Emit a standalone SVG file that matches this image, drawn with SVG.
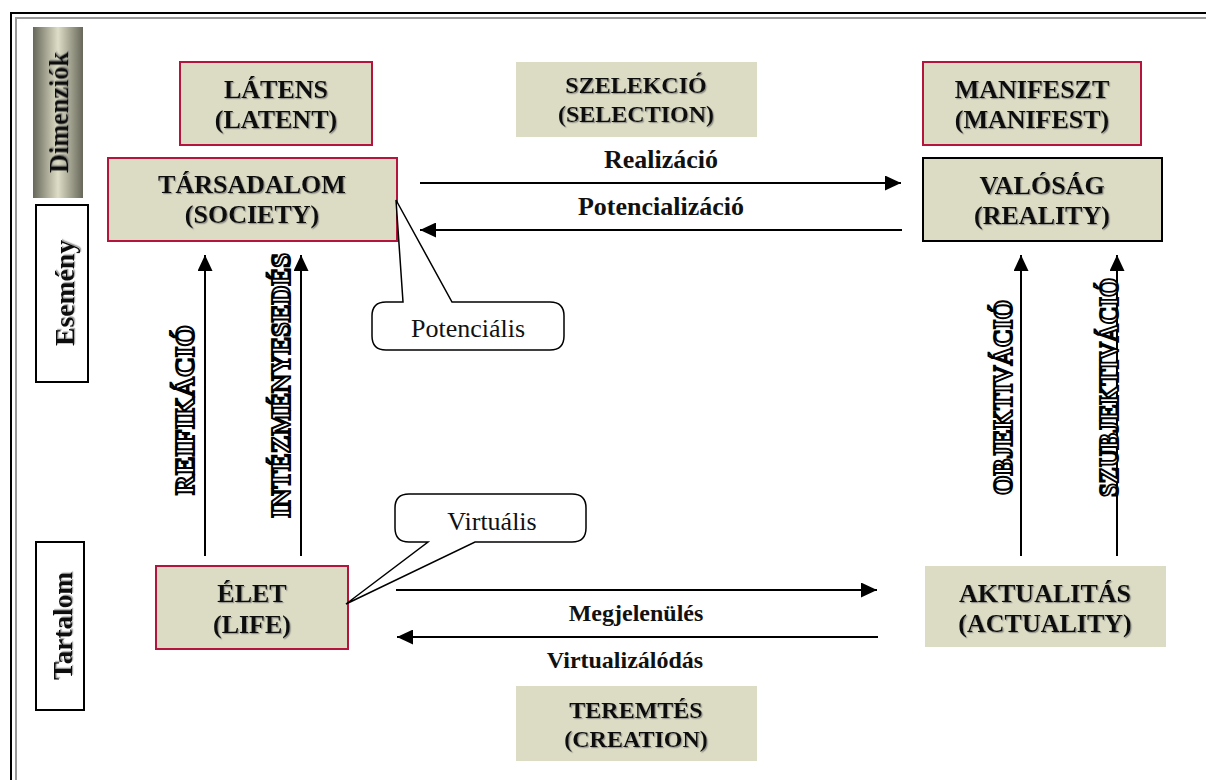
<svg xmlns="http://www.w3.org/2000/svg" width="1206" height="780" viewBox="0 0 1206 780">
<defs>
<linearGradient id="dimGrad" x1="0" y1="0" x2="1" y2="0">
<stop offset="0" stop-color="#67675a"/>
<stop offset="0.5" stop-color="#deddc6"/>
<stop offset="1" stop-color="#67675a"/>
</linearGradient>
<filter id="sh" x="-5%" y="-20%" width="110%" height="140%">
<feDropShadow dx="1.2" dy="1.2" stdDeviation="0.6" flood-color="#777" flood-opacity="0.7"/>
</filter>
<marker id="ah" markerUnits="userSpaceOnUse" markerWidth="16" markerHeight="15" refX="16" refY="7.5" orient="auto">
<path d="M0,0 L16,7.5 L0,15 Z" fill="#000"/>
</marker>
</defs>
<style>
.box{fill:#dcdbc3}
.red{stroke:#b5153d;stroke-width:2}
.blk{stroke:#000;stroke-width:2}
.t{font-family:"Liberation Serif","Times New Roman",serif;font-weight:bold;fill:#111;text-anchor:middle}
.lab{font-size:26px}
.sm{font-size:24px}
.side{font-family:"Liberation Serif","Times New Roman",serif;font-weight:bold;font-size:28px;fill:#111;text-anchor:middle}
.out{font-family:"Liberation Serif","Times New Roman",serif;font-weight:bold;font-size:27px;fill:#fff;stroke:#000;stroke-width:2;text-anchor:middle}
.reg{font-family:"Liberation Serif","Times New Roman",serif;font-size:26px;fill:#111;text-anchor:middle}
.ln{stroke:#000;stroke-width:2;fill:none}
.call{fill:#fff;stroke:#000;stroke-width:1.5}
</style>
<rect width="1206" height="780" fill="#fff"/>
<g id="frame" fill="none">
<rect x="11" y="13" width="1220" height="800" stroke="#000" stroke-width="2"/>
<rect x="16" y="18" width="1220" height="800" stroke="#999" stroke-width="2"/>
</g>
<g id="side-dimenziok">
<rect x="33" y="27" width="50" height="171" fill="url(#dimGrad)"/>
<text class="side" filter="url(#sh)" transform="translate(68,112.5) rotate(-90)" textLength="121" lengthAdjust="spacingAndGlyphs">Dimenziók</text>
</g>
<g id="side-esemeny">
<rect x="36" y="205" width="52" height="177" fill="#fff" stroke="#000" stroke-width="2"/>
<text class="side" filter="url(#sh)" transform="translate(74,293) rotate(-90)" textLength="106" lengthAdjust="spacingAndGlyphs">Esemény</text>
</g>
<g id="side-tartalom">
<rect x="36" y="542" width="48" height="168" fill="#fff" stroke="#000" stroke-width="2"/>
<text class="side" filter="url(#sh)" transform="translate(72,626) rotate(-90)" textLength="108" lengthAdjust="spacingAndGlyphs">Tartalom</text>
</g>
<g id="latens">
<rect class="box red" x="180" y="62" width="192" height="83"/>
<text class="t lab" filter="url(#sh)" x="276" y="98">LÁTENS</text>
<text class="t lab" filter="url(#sh)" x="276" y="128">(LATENT)</text>
</g>
<g id="szelekcio">
<rect class="box" x="516" y="62" width="241" height="75"/>
<text class="t sm" filter="url(#sh)" x="636" y="93">SZELEKCIÓ</text>
<text class="t sm" filter="url(#sh)" x="636" y="122">(SELECTION)</text>
</g>
<g id="manifeszt">
<rect class="box red" x="923" y="62" width="218" height="83"/>
<text class="t lab" filter="url(#sh)" x="1032" y="98">MANIFESZT</text>
<text class="t lab" filter="url(#sh)" x="1032" y="128">(MANIFEST)</text>
</g>
<g id="tarsadalom">
<rect class="box red" x="108" y="158" width="289" height="83"/>
<text class="t lab" filter="url(#sh)" x="252" y="193">TÁRSADALOM</text>
<text class="t lab" filter="url(#sh)" x="252" y="223">(SOCIETY)</text>
</g>
<g id="valosag">
<rect class="box blk" x="923" y="158" width="239" height="83"/>
<text class="t lab" filter="url(#sh)" x="1042" y="194">VALÓSÁG</text>
<text class="t lab" filter="url(#sh)" x="1042" y="224">(REALITY)</text>
</g>
<g id="elet">
<rect class="box red" x="156" y="566" width="192" height="83"/>
<text class="t lab" filter="url(#sh)" x="252" y="602">ÉLET</text>
<text class="t lab" filter="url(#sh)" x="252" y="633">(LIFE)</text>
</g>
<g id="aktualitas">
<rect class="box" x="925" y="566" width="241" height="81"/>
<text class="t lab" filter="url(#sh)" x="1045" y="602">AKTUALITÁS</text>
<text class="t lab" filter="url(#sh)" x="1045" y="632">(ACTUALITY)</text>
</g>
<g id="teremtes">
<rect class="box" x="516" y="686" width="241" height="75"/>
<text class="t sm" filter="url(#sh)" x="636" y="718">TEREMTÉS</text>
<text class="t sm" filter="url(#sh)" x="636" y="747">(CREATION)</text>
</g>
<g id="connectors">
<line class="ln" x1="420" y1="183" x2="901" y2="183" marker-end="url(#ah)"/>
<line class="ln" x1="902" y1="230" x2="420" y2="230" marker-end="url(#ah)"/>
<line class="ln" x1="396" y1="590" x2="877" y2="590" marker-end="url(#ah)"/>
<line class="ln" x1="878" y1="637" x2="397" y2="637" marker-end="url(#ah)"/>
<line class="ln" x1="205" y1="556" x2="205" y2="255" marker-end="url(#ah)"/>
<line class="ln" x1="301" y1="556" x2="301" y2="255" marker-end="url(#ah)"/>
<line class="ln" x1="1021" y1="556" x2="1021" y2="255" marker-end="url(#ah)"/>
<line class="ln" x1="1117" y1="556" x2="1117" y2="255" marker-end="url(#ah)"/>
<text class="t lab" x="661" y="168">Realizáció</text>
<text class="t lab" x="661" y="215">Potencializáció</text>
<text class="t sm" x="636" y="621">Megjelenülés</text>
<text class="t sm" x="625" y="668">Virtualizálódás</text>
<text class="out" transform="translate(194,410) rotate(-90)" textLength="170" lengthAdjust="spacingAndGlyphs">REIFIKÁCIÓ</text>
<text class="out" transform="translate(290,385.5) rotate(-90)" textLength="265" lengthAdjust="spacingAndGlyphs">INTÉZMÉNYESEDÉS</text>
<text class="out" transform="translate(1012,397.5) rotate(-90)" textLength="195" lengthAdjust="spacingAndGlyphs">OBJEKTIVÁCIÓ</text>
<text class="out" transform="translate(1118,387.5) rotate(-90)" textLength="219" lengthAdjust="spacingAndGlyphs">SZUBJEKTIVÁCIÓ</text>
</g>
<g id="callout-potencialis">
<path class="call" d="M386,302 L403,302 L396,200 L452,302 L550,302 Q564,302 564,316 L564,336 Q564,350 550,350 L386,350 Q372,350 372,336 L372,316 Q372,302 386,302 Z"/>
<text class="reg" x="468" y="337">Potenciális</text>
</g>
<g id="callout-virtualis">
<path class="call" d="M409,494 L572,494 Q586,494 586,508 L586,528 Q586,542 572,542 L475,542 L346,604 L428,542 L409,542 Q395,542 395,528 L395,508 Q395,494 409,494 Z"/>
<text class="reg" x="492" y="530">Virtuális</text>
</g>
</svg>
